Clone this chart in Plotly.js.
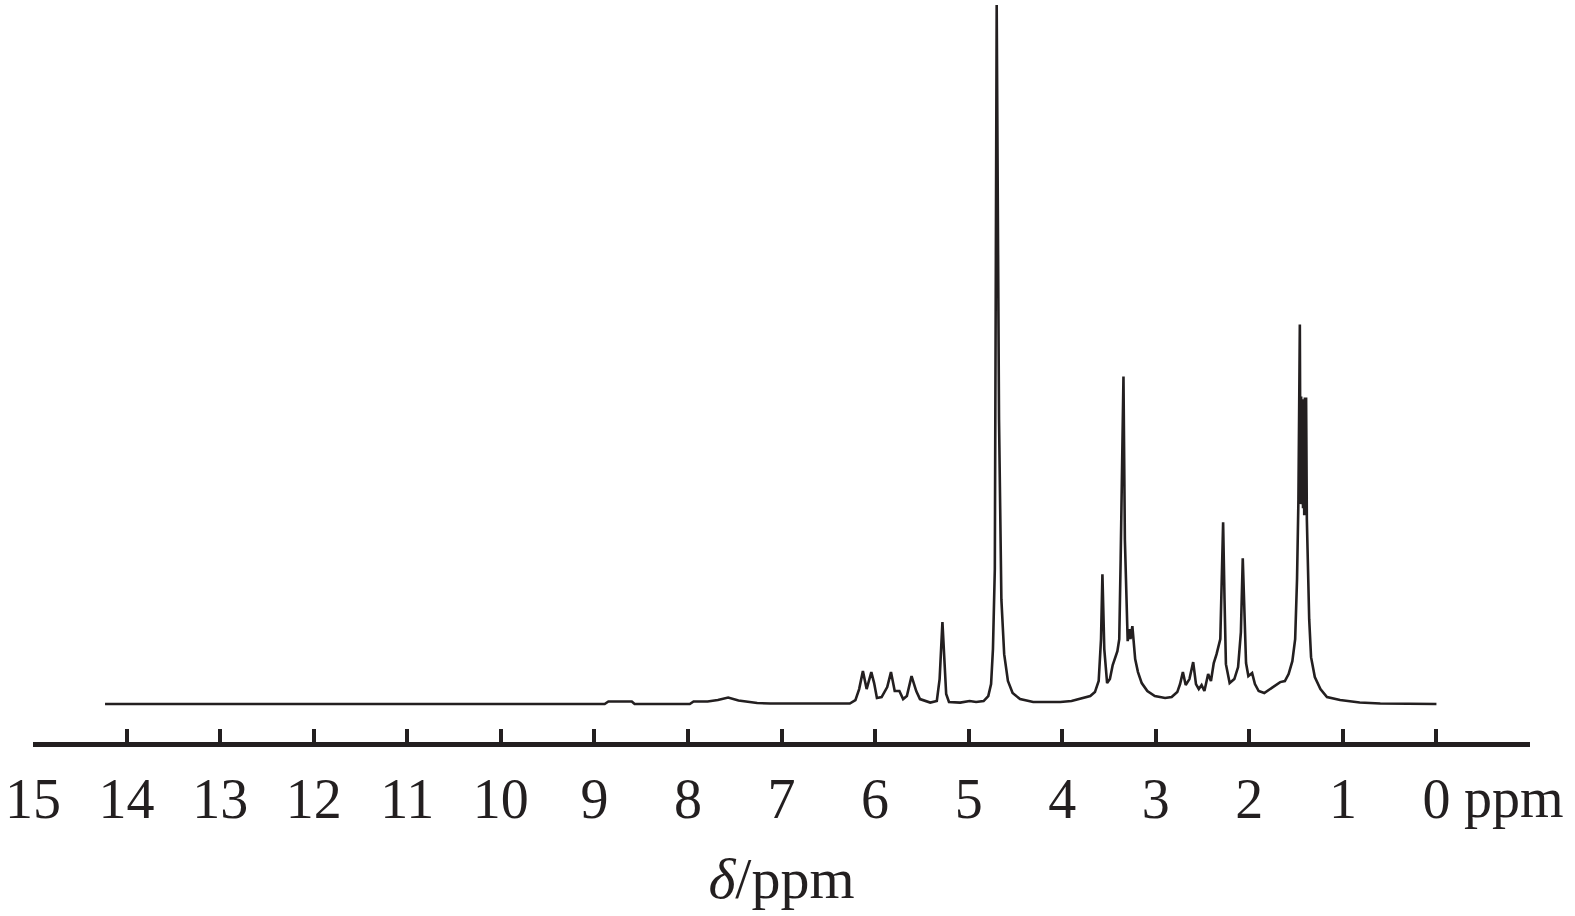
<!DOCTYPE html>
<html>
<head>
<meta charset="utf-8">
<script src="https://cdn.plot.ly/plotly-3.0.1.min.js"></script>
<style>
  html, body { margin: 0; padding: 0; background: #ffffff; }
  #chart { width: 1575px; height: 916px; }
</style>
</head>
<body>
<div id="chart"></div>
<script>
// Chemical shift (ppm) of each traced point of the 1H NMR spectrum
const shiftPpm = [
  14.23, 8.89, 8.85, 8.60, 8.57, 7.98, 7.94, 7.79, 7.68, 7.57, 7.46, 7.36, 7.26, 7.12,
  6.27, 6.21, 6.17, 6.13, 6.09, 6.04, 6.01, 5.98, 5.93, 5.87, 5.83, 5.79, 5.74, 5.70,
  5.66, 5.61, 5.56, 5.52, 5.41, 5.34, 5.31, 5.28, 5.26, 5.24, 5.21, 5.09, 4.99, 4.92,
  4.84, 4.79, 4.76, 4.74, 4.72, 4.70, 4.675, 4.65, 4.62, 4.58, 4.53, 4.45, 4.31, 4.02,
  3.90, 3.78, 3.70, 3.65, 3.61, 3.585, 3.57, 3.55, 3.52, 3.49, 3.46, 3.41, 3.39, 3.375,
  3.345, 3.33, 3.31, 3.30, 3.28, 3.27, 3.25, 3.22, 3.19, 3.15, 3.09, 3.01, 2.90, 2.83,
  2.77, 2.74, 2.71, 2.68, 2.64, 2.60, 2.57, 2.54, 2.51, 2.48, 2.44, 2.41, 2.38, 2.35,
  2.31, 2.30, 2.28, 2.265, 2.25, 2.21, 2.16, 2.12, 2.09, 2.07, 2.05, 2.035, 2.01, 1.99,
  1.97, 1.94, 1.90, 1.84, 1.78, 1.725, 1.67, 1.62, 1.58, 1.54, 1.51, 1.49, 1.475, 1.46,
  1.453, 1.446, 1.44, 1.433, 1.426, 1.42, 1.413, 1.406, 1.40, 1.393, 1.385,
  1.36, 1.34, 1.30, 1.24, 1.17, 1.03, 0.82, 0.60, 0.00
];
// Relative intensity (tallest peak = 100)
const intensity = [
  0, 0, 0.36, 0.36, 0, 0, 0.36, 0.36, 0.57, 0.93, 0.5, 0.36, 0.14, 0.07,
  0.07, 0.57, 2.14, 4.71, 2.14, 4.57, 3.0, 0.86, 1.0, 2.43, 4.57, 1.86, 1.86, 0.71,
  1.14, 4.0, 1.86, 0.71, 0.21, 0.43, 3.57, 11.71, 6.43, 1.43, 0.29, 0.21, 0.43, 0.29,
  0.43, 1.14, 2.86, 7.86, 19.29, 100, 40.71, 15.0, 7.14, 3.29, 1.57, 0.71, 0.29, 0.29,
  0.43, 0.86, 1.14, 1.71, 3.29, 9.29, 18.57, 7.86, 3.0, 3.57, 5.57, 7.57, 9.29, 20.71,
  46.86, 23.57, 12.86, 9.0, 10.71, 9.29, 11.14, 6.43, 4.57, 3.0, 1.86, 1.14, 0.86, 1.0,
  1.71, 2.86, 4.57, 2.71, 3.57, 6.0, 2.86, 2.14, 2.71, 1.86, 4.29, 3.29, 5.86, 7.14,
  9.29, 15.0, 26.0, 15.0, 5.71, 3.0, 3.57, 5.29, 10.29, 20.86, 12.14, 5.86, 4.0, 4.29,
  4.43, 2.86, 1.86, 1.57, 2.14, 2.71, 3.14, 3.29, 4.29, 6.14, 9.29, 17.86, 29.29, 54.29,
  28.6, 44.0, 28.6, 43.6, 28.0, 43.6, 27.0, 43.86, 27.0, 43.86, 26.43,
  12.14, 6.71, 3.86, 2.14, 1.0, 0.57, 0.21, 0.07, 0
];
// Axis ticks and labels
const tickValues = [15, 14, 13, 12, 11, 10, 9, 8, 7, 6, 5, 4, 3, 2, 1, 0, -1];
const tickLabels = ['15', '14', '13', '12', '11', '10', '9', '8', '7', '6', '5', '4', '3', '2', '1', '0', ''];
const axisTitle = '<i>δ</i>/ppm';
const unitLabel = 'ppm';

const ink = '#231f20';
const serif = '"Liberation Serif", "Times New Roman", serif';

const trace = {
  type: 'scatter',
  mode: 'lines',
  x: shiftPpm,
  y: intensity,
  line: { color: ink, width: 2.6, shape: 'linear' },
  hoverinfo: 'skip',
  showlegend: false
};

const layout = {
  width: 1575,
  height: 916,
  margin: { l: 33, r: 45, t: 5, b: 174, pad: 0 },
  paper_bgcolor: '#ffffff',
  plot_bgcolor: '#ffffff',
  showlegend: false,
  xaxis: {
    range: [15, -1],
    tickmode: 'array',
    tickvals: tickValues,
    ticktext: tickLabels,
    ticks: 'inside',
    ticklen: 13,
    tickwidth: 4,
    tickcolor: ink,
    showline: true,
    linecolor: ink,
    linewidth: 5,
    showgrid: false,
    zeroline: false,
    ticklabelstandoff: 4,
    tickfont: { family: serif, size: 56, color: ink },
    title: { text: axisTitle, font: { family: serif, size: 58, color: ink }, standoff: 30 },
    fixedrange: true
  },
  yaxis: {
    range: [-5.43, 100],
    visible: false,
    showgrid: false,
    zeroline: false,
    fixedrange: true
  },
  annotations: [{
    text: unitLabel,
    xref: 'x',
    yref: 'paper',
    x: 0,
    y: 0,
    xanchor: 'left',
    yanchor: 'top',
    xshift: 26,
    yshift: -23,
    showarrow: false,
    font: { family: serif, size: 56, color: ink }
  }]
};

Plotly.newPlot('chart', [trace], layout, { staticPlot: true, displayModeBar: false });
</script>
</body>
</html>
